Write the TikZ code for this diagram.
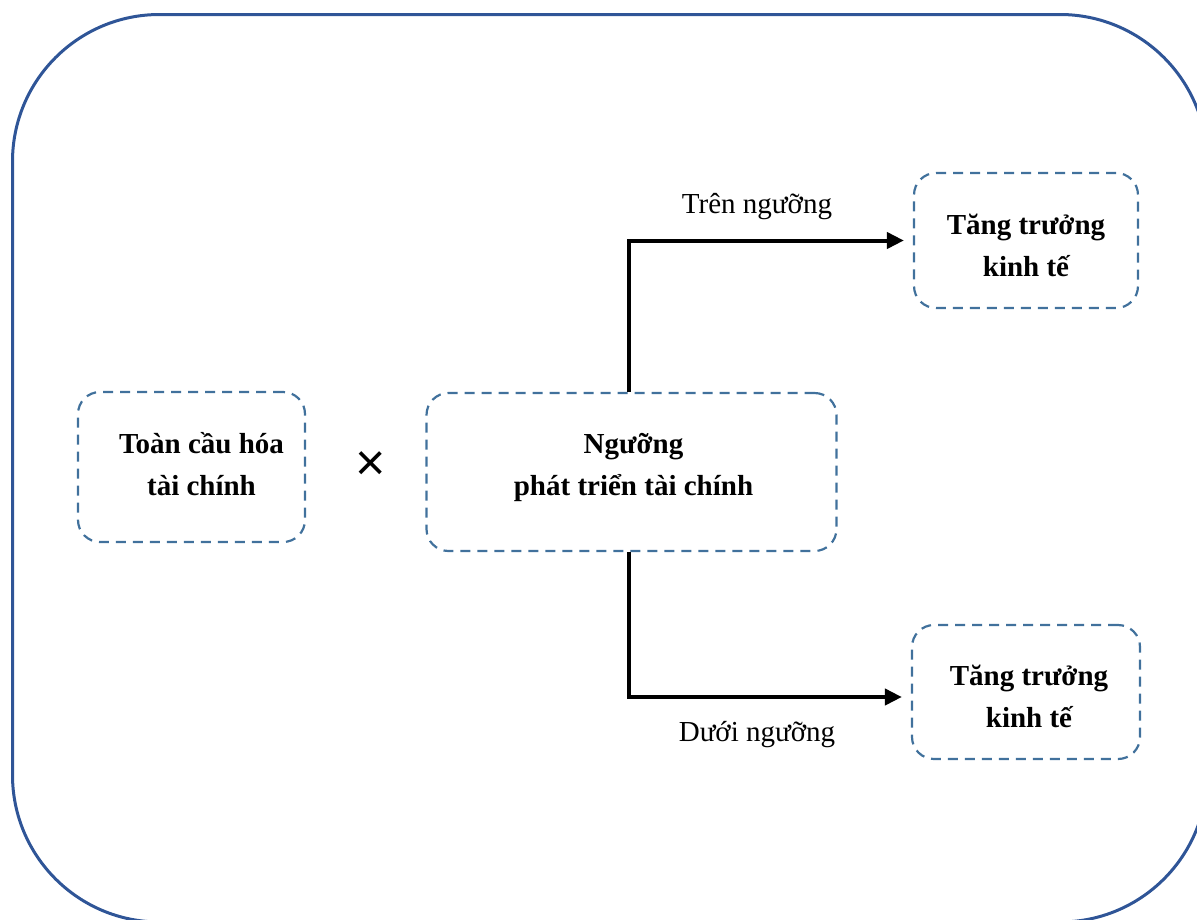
\documentclass[tikz,border=0pt]{standalone}
\usepackage{fontspec}
\setmainfont{Liberation Serif}
\newfontfamily\symfont{Liberation Sans}
\usetikzlibrary{arrows.meta}
\definecolor{outerblue}{HTML}{2F5597}
\definecolor{dashblue}{HTML}{41719C}
\tikzset{
  dbox/.style={draw=dashblue, line width=2.2pt, dash pattern=on 10pt off 7pt, rounded corners=22pt, inner sep=0pt},
  btext/.style={font=\fontsize{29}{42}\selectfont\bfseries, align=center, inner sep=0pt},
  ltext/.style={font=\fontsize{29}{36}\selectfont, inner sep=0pt, anchor=base},
  conn/.style={line width=4pt, -{Triangle[length=17pt,width=16pt]}, shorten >=9pt},
}
\begin{document}
\begin{tikzpicture}[x=1pt,y=-1pt]
\useasboundingbox (0,0) rectangle (1197,919);
\begin{scope}
\clip (0,0) rectangle (1197,919);
\draw[outerblue, line width=3pt, rounded corners=147pt] (12.5,14.5) rectangle (1207,922);
\end{scope}
% boxes
\node[dbox, minimum width=227pt, minimum height=150pt] (left) at (191.5,467) {};
\node[dbox, minimum width=410pt, minimum height=158pt] (mid) at (631.5,472) {};
\node[dbox, minimum width=224pt, minimum height=135pt] (tr) at (1026,240.5) {};
\node[dbox, minimum width=228pt, minimum height=134pt] (br) at (1026,692) {};
% texts
\node[btext] (lefttext) at ([xshift=10pt,yshift=3pt]left.center) {Toàn cầu hóa\\tài chính};
\node[btext] (midtext) at ([xshift=2pt,yshift=5pt]mid.center) {Ngưỡng\\phát triển tài chính};
\node[btext] (trtext) at ([yshift=-5pt]tr.center) {Tăng trưởng\\kinh tế};
\node[btext] (brtext) at ([xshift=3pt,yshift=-4pt]br.center) {Tăng trưởng\\kinh tế};
\node[font=\symfont\fontsize{52}{52}\selectfont, inner sep=0pt] (times) at (371,466) {×};
% connectors
\coordinate (upstart) at ([xshift=-3pt]mid.north);
\coordinate (downstart) at ([xshift=-3pt]mid.south);
\coordinate (brin) at ([yshift=-5pt]br.west);
\draw[conn] (upstart) |- (tr.west);
\draw[conn] (downstart) |- (brin);
\node[ltext] (above) at (757,213) {Trên ngưỡng};
\node[ltext] (below) at (757,741) {Dưới ngưỡng};
\end{tikzpicture}
\end{document}
